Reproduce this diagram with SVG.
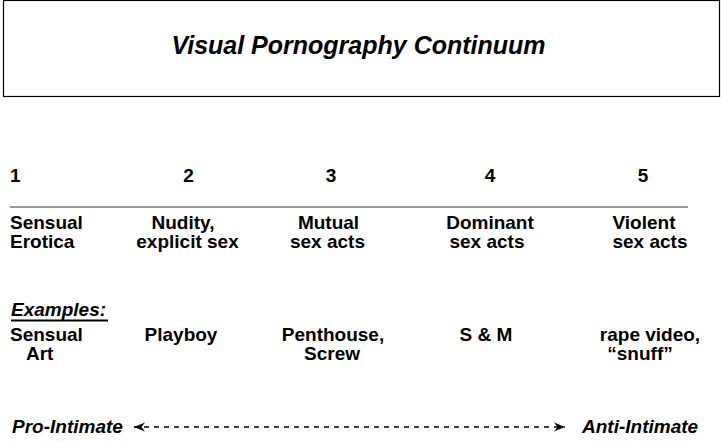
<svg xmlns="http://www.w3.org/2000/svg" width="721" height="442" viewBox="0 0 721 442">
<style>
.t{font-family:"Liberation Sans",Arial,Helvetica,sans-serif;font-weight:bold;font-size:19px;fill:#000}
.i{font-style:italic}
.m{text-anchor:middle}
</style>
<defs>
<marker id="ah" markerUnits="userSpaceOnUse" markerWidth="12" markerHeight="10" refX="11" refY="5" orient="auto-start-reverse">
<path d="M0,0.5 L11,5 L0,9.5 L3.5,5 Z" fill="#000"/>
</marker>
</defs>
<rect width="721" height="442" fill="#fff"/>
<g id="title">
<rect x="3.5" y="0.5" width="716" height="96" fill="none" stroke="#000" stroke-width="1.2"/>
<text class="t i m" x="358.5" y="54" style="font-size:25px">Visual Pornography Continuum</text>
</g>
<g id="scale-rule">
<line x1="10" y1="207" x2="688" y2="207" stroke="#777" stroke-width="1.5"/>
</g>
<g id="col1">
<text class="t" x="10" y="182">1</text>
<text class="t" x="10" y="229">Sensual</text>
<text class="t" x="10" y="248">Erotica</text>
</g>
<g id="col2">
<text class="t m" x="188.5" y="182">2</text>
<text class="t m" x="183" y="229">Nudity,</text>
<text class="t m" x="187.5" y="248">explicit sex</text>
</g>
<g id="col3">
<text class="t m" x="331" y="182">3</text>
<text class="t m" x="328.5" y="229">Mutual</text>
<text class="t m" x="327.5" y="248">sex acts</text>
</g>
<g id="col4">
<text class="t m" x="490" y="182">4</text>
<text class="t m" x="490" y="229">Dominant</text>
<text class="t m" x="487" y="248">sex acts</text>
</g>
<g id="col5">
<text class="t m" x="643" y="182">5</text>
<text class="t m" x="644" y="229">Violent</text>
<text class="t m" x="650" y="248">sex acts</text>
</g>
<g id="examples">
<text class="t i" x="11" y="316">Examples:</text>
<line x1="11" y1="320.5" x2="108" y2="320.5" stroke="#000" stroke-width="2"/>
<text class="t" x="10" y="341">Sensual</text>
<text class="t" x="26" y="360">Art</text>
<text class="t m" x="181" y="341">Playboy</text>
<text class="t m" x="333" y="341">Penthouse,</text>
<text class="t m" x="332" y="360">Screw</text>
<text class="t m" x="486" y="341">S &amp; M</text>
<text class="t m" x="650" y="341">rape video,</text>
<text class="t m" x="640" y="360">“snuff”</text>
</g>
<g id="pro-intimate">
<text class="t i" x="12" y="433">Pro-Intimate</text>
</g>
<g id="anti-intimate">
<text class="t i" x="582" y="433">Anti-Intimate</text>
</g>
<g id="connectors">
<path d="M134,427 L565,427" fill="none" stroke="#000" stroke-width="1.6" stroke-dasharray="5,5" marker-start="url(#ah)" marker-end="url(#ah)"/>
</g>
</svg>
